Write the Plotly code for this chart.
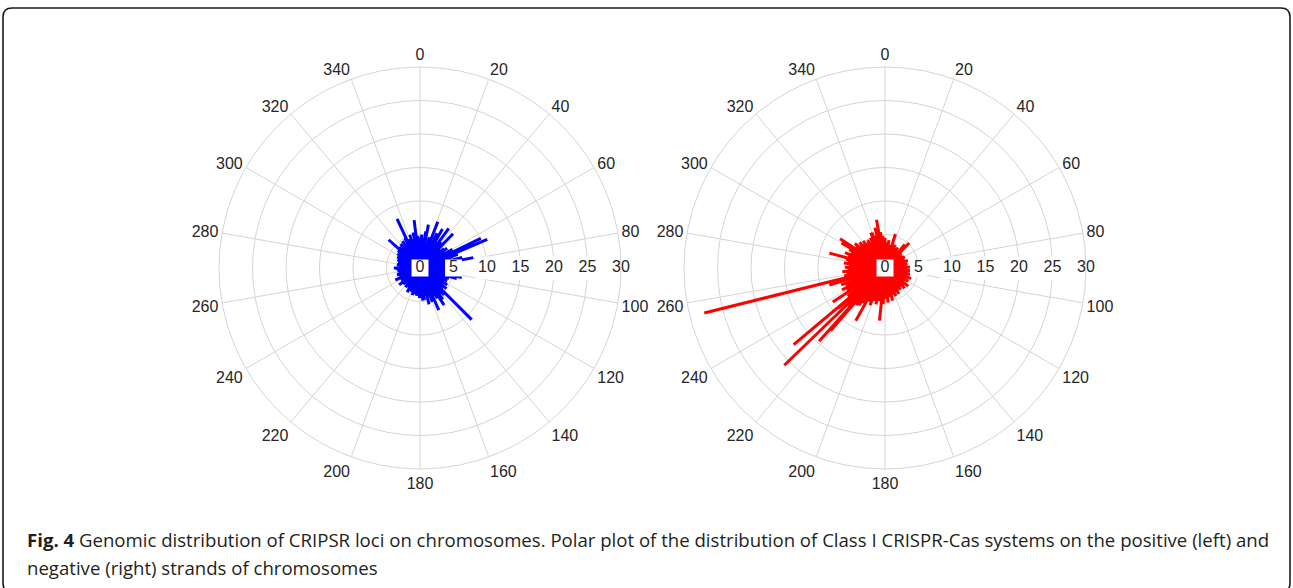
import plotly.graph_objects as go

W, H = 1293, 588

# ---------------- data ----------------
# Left plot (positive strand): spoke angle (deg, clockwise from north) and length
pos_theta = [0, 3, 6, 9, 11, 14, 17, 21, 23, 26, 30, 32, 36, 39, 42, 44, 48, 51, 54, 57,
             60, 64, 66, 67, 70, 73, 76, 79, 82, 85, 88, 91, 94, 97, 100, 103, 106, 110, 113, 116,
             119, 122, 125, 128, 131, 135, 138, 141, 144, 147, 150, 153, 156, 160, 163, 166, 169, 172, 175, 178,
             181, 184, 187, 190, 193, 196, 199, 202, 205, 208, 211, 214, 217, 220, 223, 226, 229, 231, 235, 238,
             241, 244, 247, 250, 253, 256, 259, 262, 265, 268, 270, 275, 278, 281, 284, 287, 290, 293, 296, 299,
             302, 305, 308, 312, 315, 318, 321, 324, 327, 330, 333, 335, 338, 340, 343, 346, 349, 353, 356]
pos_r = [4.5, 5.0, 4.2, 5.5, 6.6, 4.0, 4.8, 7.4, 4.5, 5.8, 6.7, 4.6, 7.3, 5.0, 4.3, 7.1, 4.0, 4.6, 5.0, 4.4,
         5.6, 10.1, 8.5, 10.9, 6.0, 4.8, 6.5, 8.1, 4.5, 3.8, 4.0, 4.2, 3.6, 4.4, 4.0, 6.4, 5.7, 4.6, 3.8, 4.5,
         4.0, 4.8, 4.2, 5.0, 4.6, 10.9, 5.4, 5.0, 5.8, 6.6, 5.2, 4.6, 6.9, 5.4, 4.4, 5.6, 4.2, 4.8, 4.9, 4.0,
         4.5, 3.8, 4.2, 4.0, 3.6, 4.2, 3.4, 3.8, 3.2, 4.1, 3.4, 3.0, 3.6, 3.2, 3.0, 3.5, 3.1, 4.0, 2.9, 3.4,
         3.2, 4.1, 3.3, 3.0, 3.6, 3.2, 3.0, 3.4, 3.1, 3.6, 3.9, 3.2, 3.5, 3.0, 3.4, 3.2, 3.6, 3.4, 3.8, 3.5,
         4.0, 3.6, 4.2, 6.3, 4.4, 3.8, 4.6, 4.0, 4.8, 4.2, 5.0, 8.1, 4.6, 4.6, 5.2, 4.4, 5.4, 7.2, 4.8]

# Right plot (negative strand)
neg_theta = [0, 4, 8, 12, 17, 20, 24, 28, 32, 36, 40, 44, 48, 52, 56, 60, 64, 68, 72, 76,
             80, 84, 88, 92, 96, 100, 104, 108, 112, 116, 120, 124, 128, 132, 136, 140, 144, 148, 152, 156,
             159, 163, 167, 171, 175, 179, 183, 186, 190, 194, 198, 202, 205, 209, 212, 215, 218, 221, 222, 224,
             226, 228, 229, 230, 233, 237, 240, 243, 246, 249, 253, 256, 259, 262, 265, 268, 271, 274, 277, 280,
             283, 285, 288, 291, 294, 297, 300, 303, 306, 309, 312, 315, 318, 321, 324, 328, 331, 334, 338, 340,
             343, 346, 350, 353, 356]
neg_r = [4.5, 3.8, 4.2, 3.5, 5.3, 3.6, 3.8, 3.4, 3.6, 3.2, 4.6, 5.2, 3.3, 2.9, 3.2, 3.4, 2.9, 3.2, 3.6, 3.0,
         3.4, 3.1, 4.4, 3.4, 3.8, 3.4, 4.0, 3.5, 4.2, 3.6, 4.0, 3.4, 4.4, 3.8, 4.2, 3.6, 4.0, 3.8, 4.4, 4.0,
         4.5, 4.2, 5.0, 4.4, 5.2, 4.6, 5.4, 7.9, 5.0, 5.6, 5.2, 6.0, 5.6, 9.0, 6.2, 6.8, 7.0, 12.4, 14.7, 8.0,
         20.9, 7.4, 9.2, 17.8, 7.0, 9.3, 6.6, 7.2, 6.4, 7.0, 8.7, 27.8, 6.2, 5.8, 6.4, 5.6, 6.0, 5.4, 6.2, 5.6,
         6.0, 8.6, 5.8, 6.4, 5.6, 6.0, 7.5, 8.0, 5.4, 5.8, 5.0, 5.4, 4.8, 5.2, 4.6, 4.9, 4.4, 5.0, 5.7, 5.6,
         5.0, 6.2, 7.3, 5.4, 4.8]

angle_ticks = [0, 20, 40, 60, 80, 100, 120, 140, 160, 180, 200, 220, 240, 260, 280, 300, 320, 340]
radial_ticks = [0, 5, 10, 15, 20, 25, 30]

caption_bold = "Fig. 4"
caption_line1 = (" Genomic distribution of CRIPSR loci on chromosomes. Polar plot of the distribution of "
                 "Class I CRISPR-Cas systems on the positive (left) and")
caption_line2 = "negative (right) strands of chromosomes"

# ---------------- figure ----------------
GRID = "#d4d4d4"
TXT = "#262626"
FONT = "Liberation Sans, Arial, sans-serif"


def spokes(theta, r):
    tt, rr = [], []
    for a, v in zip(theta, r):
        tt += [a, a, None]
        rr += [0, v, None]
    return tt, rr


fig = go.Figure()

for sub, th, rv, col in [("polar", pos_theta, pos_r, "#0000ff"),
                         ("polar2", neg_theta, neg_r, "#ff0000")]:
    tt, rr = spokes(th, rv)
    fig.add_trace(go.Scatterpolar(theta=tt, r=rr, mode="lines", subplot=sub,
                                  line=dict(color=col, width=3), connectgaps=False,
                                  showlegend=False, hoverinfo="skip"))
    sizes = [17 if t < 10 else 23 for t in radial_ticks]
    fig.add_trace(go.Scatterpolar(theta=[90] * len(radial_ticks), r=radial_ticks,
                                  mode="markers+text", subplot=sub,
                                  text=[str(t) for t in radial_ticks],
                                  textposition="middle center",
                                  textfont=dict(family=FONT, size=16, color=TXT),
                                  marker=dict(symbol="square", color="white", size=sizes,
                                              opacity=1, line=dict(width=0)),
                                  showlegend=False, hoverinfo="skip"))

R = 201
def dom(cx, cy):
    return dict(x=[(cx - R) / W, (cx + R) / W], y=[1 - (cy + R) / H, 1 - (cy - R) / H])

polar_common = dict(
    bgcolor="white",
    angularaxis=dict(rotation=90, direction="clockwise", tickvals=angle_ticks,
                     ticktext=[str(a) for a in angle_ticks], ticks="",
                     showline=True, linecolor=GRID, linewidth=1,
                     gridcolor=GRID, gridwidth=1,
                     tickfont=dict(family=FONT, size=16, color=TXT)),
    radialaxis=dict(range=[0, 30], tickvals=radial_ticks[1:], showticklabels=False,
                    ticks="", showline=False, gridcolor=GRID, gridwidth=1, angle=0),
)

fig.update_layout(
    width=W, height=H,
    margin=dict(l=0, r=0, t=0, b=0),
    paper_bgcolor="white",
    plot_bgcolor="white",
    polar=dict(domain=dom(420, 268), **polar_common),
    polar2=dict(domain=dom(885, 268), **polar_common),
    showlegend=False,
)

# rounded frame around the figure panel
x0, x1 = 3 / W, 1290 / W
y0, y1 = 1 - 8 / H, 1 - 592 / H
rx, ry = 9 / W, 9 / H
path = (f"M {x0},{y1 + ry} L {x0},{y0 - ry} Q {x0},{y0} {x0 + rx},{y0} "
        f"L {x1 - rx},{y0} Q {x1},{y0} {x1},{y0 - ry} L {x1},{y1 + ry} "
        f"Q {x1},{y1} {x1 - rx},{y1} L {x0 + rx},{y1} Q {x0},{y1} {x0},{y1 + ry} Z")
fig.add_shape(type="path", path=path, xref="paper", yref="paper",
              line=dict(color="#1a1a1a", width=1.6), fillcolor="rgba(0,0,0,0)")

CAP = "Open Sans, sans-serif"
fig.add_annotation(x=25 / W, y=1 - 539 / H, xref="paper", yref="paper", xanchor="left",
                   yanchor="middle", showarrow=False,
                   text=f"<b>{caption_bold}</b>{caption_line1}",
                   font=dict(family=CAP, size=18.6, color="#231f20"))
fig.add_annotation(x=25 / W, y=1 - 567 / H, xref="paper", yref="paper", xanchor="left",
                   yanchor="middle", showarrow=False, text=caption_line2,
                   font=dict(family=CAP, size=18.6, color="#231f20"))

fig.write_html("out.html")
